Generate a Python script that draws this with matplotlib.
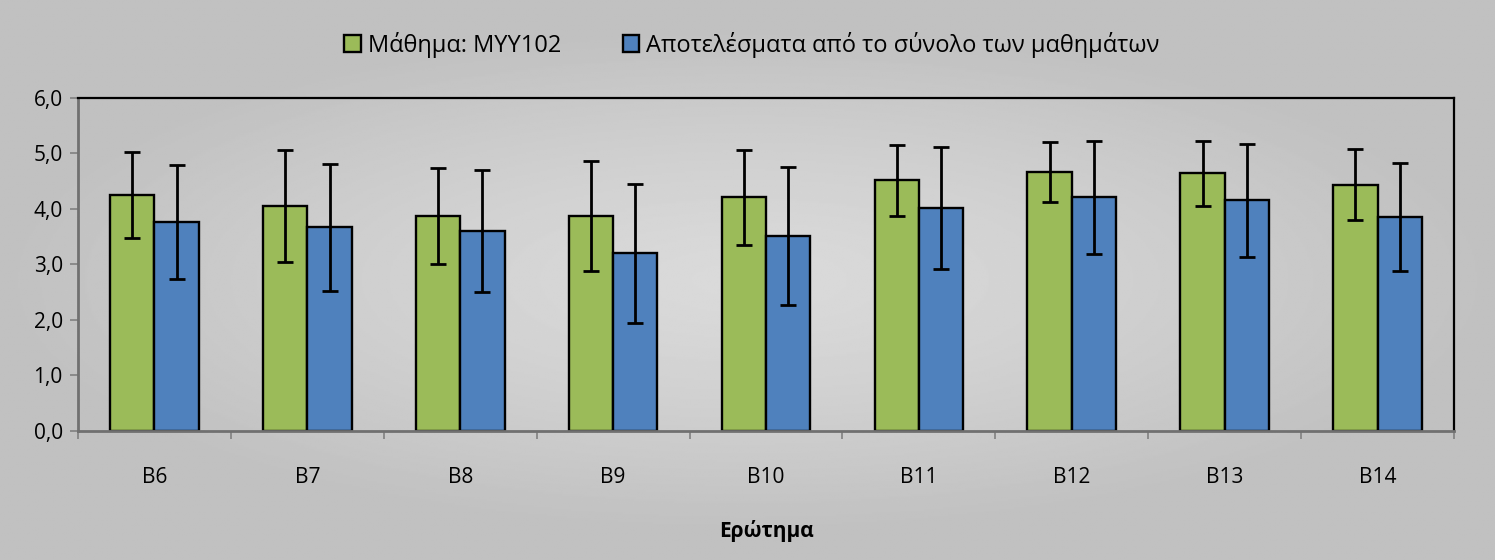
import numpy as np
import matplotlib
matplotlib.use("Agg")
import matplotlib.pyplot as plt
from matplotlib.ticker import FuncFormatter, FixedLocator

plt.rcParams['font.family'] = ['Open Sans', 'DejaVu Sans']

questions = ['B6', 'B7', 'B8', 'B9', 'B10', 'B11', 'B12', 'B13', 'B14']
course_mean = [4.25, 4.05, 3.87, 3.87, 4.21, 4.52, 4.67, 4.64, 4.44]
course_sd = [0.77, 1.01, 0.87, 0.99, 0.86, 0.64, 0.54, 0.59, 0.64]
all_mean = [3.76, 3.67, 3.60, 3.20, 3.51, 4.01, 4.21, 4.16, 3.86]
all_sd = [1.03, 1.14, 1.10, 1.25, 1.24, 1.10, 1.02, 1.02, 0.97]
label_course = 'Μάθημα: ΜΥΥ102'
label_all = 'Αποτελέσματα από το σύνολο των μαθημάτων'

fig = plt.figure(figsize=(14.95, 5.6), dpi=100)

# radial grey background like the excel chart area
bg = fig.add_axes([0, 0, 1, 1], zorder=-10)
yy, xx = np.mgrid[-1:1:300j, -1:1:800j]
r = np.sqrt(xx ** 2 + (yy / 0.9) ** 2)
bg.imshow(0.855 - 0.10 * np.clip(r, 0, 1.0) ** 1.3, cmap='gray', vmin=0, vmax=1,
          aspect='auto', extent=[0, 1, 0, 1])
bg.axis('off')

ax = fig.add_axes([0.0522, 0.2304, 0.9204, 0.5946])
ax.set_facecolor('none')

x = np.arange(len(questions))
w = 0.29
err_kw = dict(ecolor='black', elinewidth=2, capsize=5.5, capthick=2)
b1 = ax.bar(x - w / 2, course_mean, w, yerr=course_sd, color='#9BBB59',
            edgecolor='black', linewidth=1.7, error_kw=err_kw, label=label_course)
b2 = ax.bar(x + w / 2, all_mean, w, yerr=all_sd, color='#4F81BD',
            edgecolor='black', linewidth=1.7, error_kw=err_kw, label=label_all)

ax.set_xlim(-0.5, len(questions) - 0.5)
ax.set_ylim(0, 6)
ax.set_yticks(np.arange(0, 6.1, 1))
ax.yaxis.set_major_formatter(FuncFormatter(lambda v, p: f'{v:.1f}'.replace('.', ',')))
ax.set_xticks(x)
ax.set_xticklabels(questions)
ax.xaxis.set_minor_locator(FixedLocator(np.arange(-0.5, len(questions), 1)))
ax.tick_params(axis='x', which='major', length=0, pad=26, labelsize=15)
ax.tick_params(axis='x', which='minor', length=6, color='#808080', width=1.2)
ax.tick_params(axis='y', length=6, color='#808080', width=1.2, labelsize=15, pad=5)

for s in ['top', 'right']:
    ax.spines[s].set_color('black')
    ax.spines[s].set_linewidth(1.6)
for s in ['left', 'bottom']:
    ax.spines[s].set_color('#707070')
    ax.spines[s].set_linewidth(2)

ax.set_xlabel('Ερώτημα', fontsize=15, fontweight='bold', labelpad=23)

fig.legend(handles=[b1, b2], loc='center', bbox_to_anchor=(0.503, 0.92), ncol=2,
           frameon=False, fontsize=17, handlelength=0.7, handleheight=0.7,
           handletextpad=0.3, columnspacing=2.6)

fig.savefig('out.png', dpi=100)
